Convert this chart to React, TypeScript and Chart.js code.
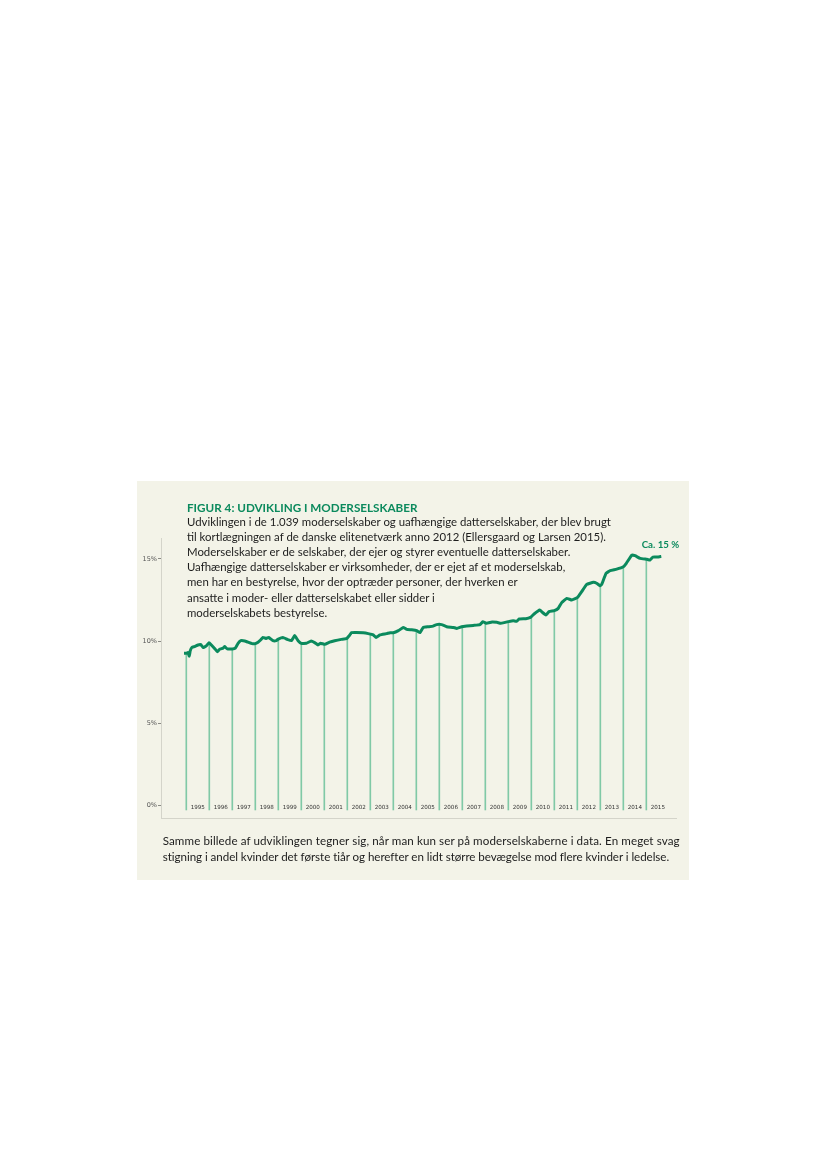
import React, { useEffect, useRef } from "react";
import { Chart, registerables } from "chart.js";

Chart.register(...registerables);

// ---- data ----
const years = [
  1994.9, 1995.0, 1995.07, 1995.13, 1995.17, 1995.25, 1995.36, 1995.51, 1995.63, 1995.73, 1995.87, 1995.99,
  1996.09, 1996.23, 1996.35, 1996.45, 1996.6, 1996.67, 1996.78, 1997.0, 1997.13, 1997.25, 1997.37, 1997.54,
  1997.68, 1997.86, 1998.0, 1998.12, 1998.23, 1998.33, 1998.48, 1998.58, 1998.77, 1998.91, 1999.0, 1999.2,
  1999.39, 1999.57, 1999.71, 1999.86, 2000.0, 2000.22, 2000.43, 2000.58, 2000.73, 2000.84, 2001.02, 2001.23,
  2001.45, 2001.74, 2001.96, 2002.1, 2002.18, 2002.4, 2002.69, 2002.91, 2003.13, 2003.25, 2003.42, 2003.71,
  2003.86, 2004.0, 2004.22, 2004.43, 2004.58, 2004.8, 2005.02, 2005.16, 2005.3, 2005.52, 2005.73, 2005.88,
  2006.1, 2006.32, 2006.61, 2006.76, 2006.97, 2007.19, 2007.48, 2007.77, 2007.89, 2008.06, 2008.29, 2008.5,
  2008.67, 2008.82, 2009.0, 2009.21, 2009.36, 2009.47, 2009.76, 2009.96, 2010.12, 2010.37, 2010.48, 2010.63,
  2010.77, 2011.0, 2011.17, 2011.32, 2011.54, 2011.76, 2012.0, 2012.19, 2012.41, 2012.7, 2012.84, 2012.99,
  2013.06, 2013.25, 2013.43, 2013.71, 2014.0, 2014.13, 2014.37, 2014.51, 2014.73, 2015.02, 2015.16, 2015.29,
  2015.48, 2015.65,
];
const share = [
  9.25, 9.25, 9.3, 9.08, 9.4, 9.62, 9.66, 9.76, 9.78, 9.6, 9.7, 9.9,
  9.76, 9.55, 9.35, 9.5, 9.57, 9.66, 9.52, 9.52, 9.57, 9.86, 10.02, 10.0,
  9.93, 9.84, 9.84, 9.93, 10.06, 10.22, 10.16, 10.22, 10.02, 10.02, 10.12, 10.22,
  10.1, 10.02, 10.33, 10.02, 9.86, 9.86, 10.0, 9.9, 9.76, 9.86, 9.8, 9.93,
  10.02, 10.1, 10.14, 10.35, 10.51, 10.52, 10.5, 10.45, 10.37, 10.22, 10.37, 10.45,
  10.51, 10.5, 10.63, 10.83, 10.71, 10.68, 10.63, 10.51, 10.83, 10.87, 10.91, 11.0,
  11.0, 10.87, 10.83, 10.77, 10.87, 10.91, 10.95, 11.0, 11.18, 11.08, 11.16, 11.14,
  11.08, 11.12, 11.18, 11.24, 11.2, 11.34, 11.36, 11.44, 11.65, 11.89, 11.75, 11.59,
  11.79, 11.85, 11.99, 12.34, 12.6, 12.5, 12.64, 13.01, 13.45, 13.58, 13.52, 13.37,
  13.45, 14.13, 14.29, 14.38, 14.53, 14.74, 15.24, 15.2, 15.04, 14.98, 14.94, 15.12,
  15.12, 15.16,
];
const yearStarts = [
  1995, 1996, 1997, 1998, 1999, 2000, 2001, 2002, 2003, 2004, 2005, 2006, 2007, 2008,
  2009, 2010, 2011, 2012, 2013, 2014, 2015,
];
const yearLabels = [
  "1995", "1996", "1997", "1998", "1999", "2000", "2001", "2002", "2003", "2004", "2005",
  "2006", "2007", "2008", "2009", "2010", "2011", "2012", "2013", "2014", "2015",
];
const yearLineTop = [
  9.25, 9.9, 9.52, 9.84, 10.12, 9.86, 9.8, 10.14, 10.4, 10.5, 10.63, 10.98, 10.9, 11.08,
  11.18, 11.44, 11.85, 12.64, 13.37, 14.53, 14.98,
];
const yearLineBase = -0.3;
const yearLabelLevel = -0.15;
const yTicks = [0, 5, 10, 15];

const GREEN = "#0b8a5d";
const LIGHT_GREEN = "#80c9a6";
const BG = "#f3f3e8";

const yearLabelPlugin = {
  id: "yearLabels",
  afterDatasetsDraw(chart: any) {
    const { ctx, scales } = chart;
    const xs = scales.x;
    const ys = scales.y;
    ctx.save();
    ctx.fillStyle = "#333";
    ctx.font = "5.6px 'DejaVu Sans'";
    ctx.textAlign = "center";
    ctx.textBaseline = "middle";
    yearStarts.forEach((y, i) => {
      ctx.fillText(yearLabels[i], xs.getPixelForValue(y + 0.5), ys.getPixelForValue(yearLabelLevel));
    });
    ctx.restore();
  },
};

export default function App() {
  const ref = useRef<HTMLCanvasElement | null>(null);

  useEffect(() => {
    if (!ref.current) return;
    const chart = new Chart(ref.current, {
      type: "line",
      data: {
        datasets: [
          {
            type: "line",
            data: years.map((x, i) => ({ x, y: share[i] })),
            borderColor: GREEN,
            borderWidth: 3,
            pointRadius: 0,
            tension: 0.1,
            order: 1,
          } as any,
          {
            type: "bar",
            data: yearStarts.map((x, i) => ({ x, y: [yearLineBase, yearLineTop[i]] })),
            backgroundColor: LIGHT_GREEN,
            borderWidth: 0,
            barThickness: 1,
            order: 2,
          } as any,
        ],
      },
      options: {
        animation: false,
        responsive: false,
        devicePixelRatio: 1,
        layout: { padding: { left: 0, top: 57, right: 13, bottom: 0 } },
        plugins: { legend: { display: false }, tooltip: { enabled: false }, title: { display: false } },
        scales: {
          x: {
            type: "linear",
            min: 1993.9,
            max: 2016.29,
            offset: false,
            grid: { display: false, drawTicks: false },
            border: { display: true, color: "#d4d4ca", width: 1 },
            afterFit: (s: any) => {
              s.height = 62;
            },
            ticks: { display: false },
          },
          y: {
            type: "linear",
            min: -0.79,
            max: 16.28,
            grid: { display: true, drawOnChartArea: false, drawTicks: true, tickLength: 3, color: "#8a8a84" },
            border: { display: true, color: "#d4d4ca", width: 1 },
            afterBuildTicks: (s: any) => {
              s.ticks = yTicks.map((v) => ({ value: v }));
            },
            afterFit: (s: any) => {
              s.width = 24;
            },
            ticks: {
              padding: 1,
              color: "#555",
              font: { family: "DejaVu Sans", size: 6.5 },
              callback: (v: any) => `${v}%`,
            },
          },
        },
      },
      plugins: [yearLabelPlugin],
    } as any);
    return () => chart.destroy();
  }, []);

  const textFont = "Lato, 'Open Sans', sans-serif";
  return (
    <div style={{ position: "absolute", left: 0, top: 0, width: 827, height: 1169, background: "#fff" }}>
      <div style={{ position: "absolute", left: 137, top: 481, width: 552, height: 399, background: BG }}>
        <canvas ref={ref} width={552} height={399} style={{ position: "absolute", left: 0, top: 0, width: 552, height: 399 }} />
        <div
          style={{
            position: "absolute",
            left: 50,
            top: 18.6,
            fontFamily: textFont,
            fontWeight: 700,
            fontSize: 11.7,
            lineHeight: "14px",
            color: GREEN,
            whiteSpace: "nowrap",
          }}
        >
          FIGUR 4: UDVIKLING I MODERSELSKABER
        </div>
        <div
          style={{
            position: "absolute",
            left: 50,
            top: 32.5,
            fontFamily: textFont,
            fontSize: 11.4,
            lineHeight: "15.2px",
            color: "#1c1c1c",
            whiteSpace: "nowrap",
          }}
        >
          <div>Udviklingen i de 1.039 moderselskaber og uafhængige datterselskaber, der blev brugt</div>
          <div>til kortlægningen af de danske elitenetværk anno 2012 (Ellersgaard og Larsen 2015).</div>
          <div>Moderselskaber er de selskaber, der ejer og styrer eventuelle datterselskaber.</div>
          <div>Uafhængige datterselskaber er virksomheder, der er ejet af et moderselskab,</div>
          <div>men har en bestyrelse, hvor der optræder personer, der hverken er</div>
          <div>ansatte i moder- eller datterselskabet eller sidder i</div>
          <div>moderselskabets bestyrelse.</div>
        </div>
        <div
          style={{
            position: "absolute",
            left: 504.7,
            top: 57.5,
            fontFamily: textFont,
            fontWeight: 700,
            fontSize: 9.7,
            lineHeight: "11.6px",
            color: GREEN,
            whiteSpace: "nowrap",
          }}
        >
          Ca. 15 %
        </div>
        <div
          style={{
            position: "absolute",
            left: 25.7,
            top: 351.7,
            fontFamily: textFont,
            fontSize: 11.6,
            lineHeight: "16.5px",
            color: "#1c1c1c",
            whiteSpace: "nowrap",
          }}
        >
          <div style={{ letterSpacing: "0.1px" }}>Samme billede af udviklingen tegner sig, når man kun ser på moderselskaberne i data. En meget svag</div>
          <div style={{ letterSpacing: "-0.05px" }}>stigning i andel kvinder det første tiår og herefter en lidt større bevægelse mod flere kvinder i ledelse.</div>
        </div>
      </div>
    </div>
  );
}
